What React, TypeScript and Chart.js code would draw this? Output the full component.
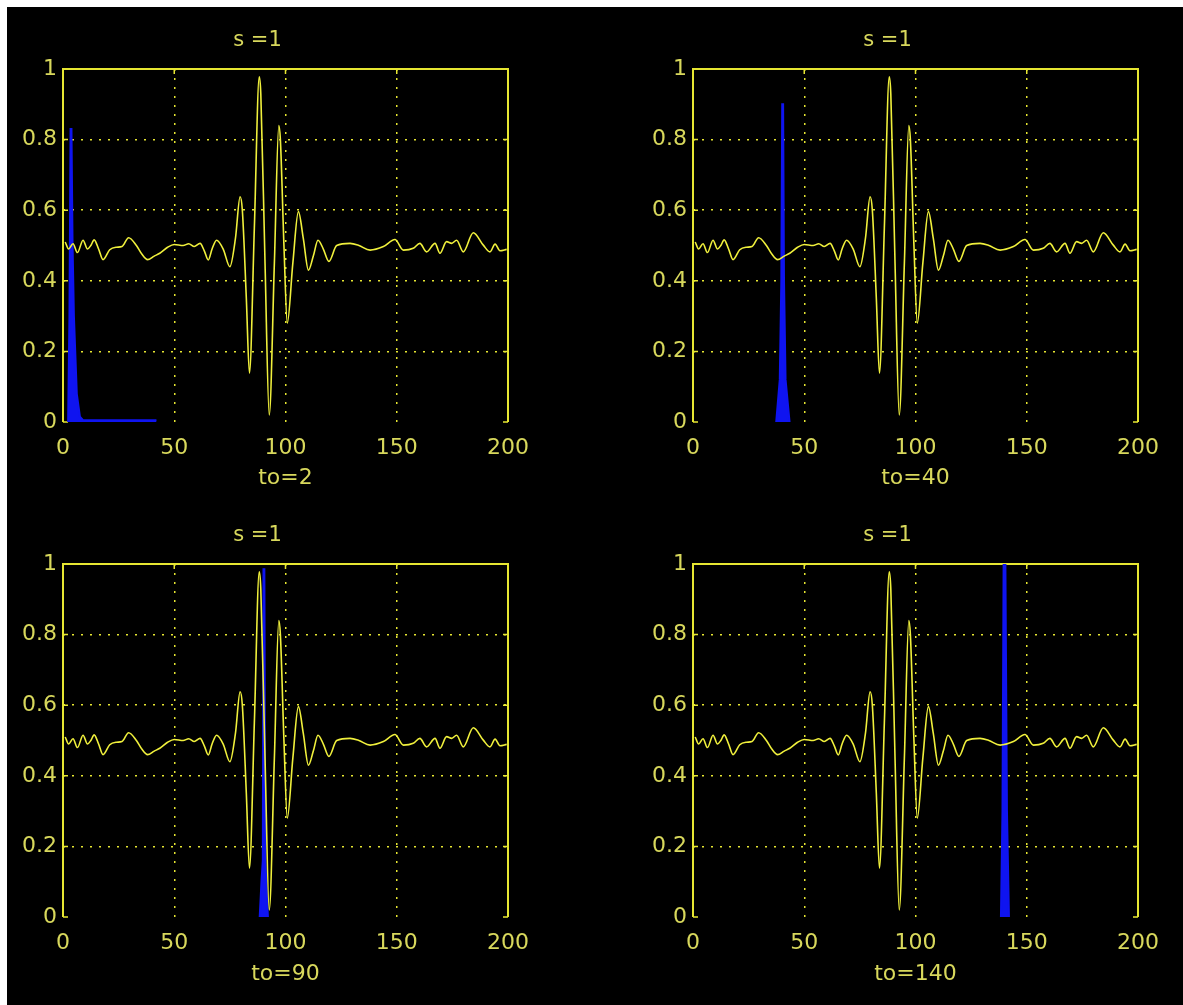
import React, { useEffect, useRef } from "react";
import { Chart, registerables } from "chart.js";

Chart.register(...registerables);

// Axis ticks
const xTicks = [0, 50, 100, 150, 200];
const yTicks = [0, 0.2, 0.4, 0.6, 0.8, 1];

// Panel captions
const panelTitles = ["s =1", "s =1", "s =1", "s =1"];
const panelLabels = ["to=2", "to=40", "to=90", "to=140"];

// Analysed signal (same in every panel)
const signalX = [
  1, 2.5, 4.5, 6.5, 9, 11, 12.5, 14, 16, 18, 21, 24, 26.5, 29.5, 33, 35.5, 38, 41,
  43.5, 47, 50, 54, 56.5, 59, 61.6, 63.5, 65.3, 67, 69, 72, 75, 77.5, 79.6, 80.6,
  82.4, 83.8, 86, 88.2, 88.9, 90.8, 92.7, 95, 97, 97.7, 99.3, 100.8, 103.3, 105.8,
  108, 110.3, 112.5, 114.6, 117, 119.5, 123, 129, 133, 138, 144, 149.2, 153,
  157.4, 160.4, 163.4, 167.2, 169.4, 172.4, 174.7, 176.9, 179.9, 184.4, 188.9,
  191.9, 194.2, 196.4, 199.4,
];
const signalY = [
  0.51, 0.49, 0.505, 0.48, 0.515, 0.49, 0.5, 0.516, 0.49, 0.46, 0.488, 0.495,
  0.497, 0.522, 0.5, 0.475, 0.46, 0.47, 0.478, 0.495, 0.503, 0.5, 0.505, 0.497,
  0.506, 0.485, 0.459, 0.49, 0.515, 0.49, 0.44, 0.52, 0.638, 0.6, 0.35, 0.138,
  0.55, 0.978, 0.93, 0.45, 0.02, 0.45, 0.84, 0.8, 0.5, 0.28, 0.45, 0.596, 0.52,
  0.43, 0.47, 0.515, 0.49, 0.455, 0.5, 0.506, 0.5, 0.487, 0.497, 0.517, 0.487,
  0.492, 0.506, 0.482, 0.506, 0.478, 0.511, 0.506, 0.515, 0.482, 0.536, 0.501,
  0.482, 0.504, 0.485, 0.489,
];

// Window pulses centred on "to"
const pulse1X = [2.3, 2.9, 3.4, 3.8, 4.3, 4.9, 6.2, 7.6, 9, 42];
const pulse1Y = [0.0, 0.3, 0.83, 0.83, 0.5, 0.3, 0.08, 0.015, 0.005, 0.005];
const pulse2X = [37.4, 39, 39.7, 40.1, 40.5, 40.9, 41.6, 43.4];
const pulse2Y = [0.0, 0.12, 0.4, 0.9, 0.9, 0.4, 0.12, 0.0];
const pulse3X = [88.4, 89.2, 89.8, 90.1, 90.5, 90.9, 91.4, 92.1];
const pulse3Y = [0.0, 0.1, 0.16, 0.985, 0.985, 0.16, 0.1, 0.0];
const pulse4X = [138.4, 139.1, 139.6, 140.4, 141.1, 142];
const pulse4Y = [0.0, 0.3, 1.0, 1.0, 0.3, 0.0];

const pulsesX = [pulse1X, pulse2X, pulse3X, pulse4X];
const pulsesY = [pulse1Y, pulse2Y, pulse3Y, pulse4Y];

const AXIS = "#e6e632";
const TEXT = "#d8d85c";
const LINE = "#f0f03c";
const BLUE = "#0f14f0";
const FONT = "'DejaVu Sans', 'Liberation Sans', sans-serif";

const framePlugin = {
  id: "matlabFrame",
  beforeDatasetsDraw(chart: any) {
    const { ctx, chartArea: a, scales } = chart;
    ctx.save();
    ctx.setLineDash([]);
    ctx.strokeStyle = AXIS;
    ctx.lineWidth = 2;
    ctx.beginPath();
    ctx.moveTo(a.left, a.bottom);
    ctx.lineTo(a.left, a.top);
    ctx.lineTo(a.right, a.top);
    ctx.lineTo(a.right, a.bottom);
    ctx.stroke();
    ctx.lineWidth = 1.5;
    ctx.beginPath();
    scales.x.ticks.forEach((t: any) => {
      const px = scales.x.getPixelForValue(t.value);
      ctx.moveTo(px, a.top);
      ctx.lineTo(px, a.top + 5);
    });
    scales.y.ticks.forEach((t: any) => {
      const py = scales.y.getPixelForValue(t.value);
      ctx.moveTo(a.left, py);
      ctx.lineTo(a.left + 5, py);
      ctx.moveTo(a.right, py);
      ctx.lineTo(a.right - 5, py);
    });
    ctx.stroke();
    ctx.restore();
  },
};

const tickText = (v: any) => `${Number(Number(v).toFixed(1))}`;

type PanelProps = { index: number; left: number; top: number; height: number };

function Panel({ index, left, top, height }: PanelProps) {
  const ref = useRef<HTMLCanvasElement | null>(null);

  useEffect(() => {
    if (!ref.current) return;
    const signal = signalX.map((x, i) => ({ x, y: signalY[i] }));
    const pulse = pulsesX[index].map((x, i) => ({ x, y: pulsesY[index][i] }));
    const titleSize = 21;
    const titleLine = titleSize * 1.2;
    const titleMid = 34;
    const chart = new Chart(ref.current, {
      type: "line",
      data: {
        datasets: [
          {
            data: signal,
            borderColor: LINE,
            borderWidth: 1.6,
            pointRadius: 0,
            fill: false,
            cubicInterpolationMode: "monotone",
            order: 0,
          },
          {
            data: pulse,
            borderColor: BLUE,
            backgroundColor: BLUE,
            borderWidth: 2,
            pointRadius: 0,
            fill: "origin",
            tension: 0,
            order: 1,
          },
        ],
      },
      options: {
        animation: false,
        responsive: false,
        devicePixelRatio: 1,
        layout: { padding: { left: 0, top: 0, right: 45, bottom: 0 } },
        plugins: {
          legend: { display: false },
          tooltip: { enabled: false },
          title: {
            display: true,
            text: panelTitles[index],
            color: TEXT,
            font: { family: FONT, size: titleSize, weight: "normal" },
            padding: { top: titleMid - titleLine / 2, bottom: 62 - (titleMid + titleLine / 2) },
          },
        },
        scales: {
          x: {
            type: "linear",
            min: xTicks[0],
            max: xTicks[xTicks.length - 1],
            afterBuildTicks: (s: any) => {
              s.ticks = xTicks.map((v) => ({ value: v }));
            },
            ticks: {
              color: TEXT,
              font: { family: FONT, size: 22 },
              padding: 13,
              maxRotation: 0,
              autoSkip: false,
              callback: tickText,
            },
            grid: { color: AXIS, lineWidth: 1.5, drawTicks: false },
            border: { display: false, dash: [2, 7] },
            title: {
              display: true,
              text: panelLabels[index],
              color: TEXT,
              font: { family: FONT, size: 22 },
              padding: { top: 0, bottom: 12 },
            },
            afterFit: (s: any) => {
              s.height = height - 62 - 353;
            },
          },
          y: {
            type: "linear",
            min: yTicks[0],
            max: yTicks[yTicks.length - 1],
            afterBuildTicks: (s: any) => {
              s.ticks = yTicks.map((v) => ({ value: v }));
            },
            ticks: {
              color: TEXT,
              font: { family: FONT, size: 22 },
              padding: 6,
              autoSkip: false,
              callback: tickText,
            },
            grid: {
              color: (c: any) => (c.tick && c.tick.value === 0 ? "rgba(0,0,0,0)" : AXIS),
              lineWidth: 1.5,
              drawTicks: false,
            },
            border: { display: false, dash: [2, 7] },
            afterFit: (s: any) => {
              s.width = 56;
            },
          },
        },
      },
      plugins: [framePlugin],
    });
    return () => chart.destroy();
  }, [index, height]);

  return (
    <canvas
      ref={ref}
      width={546}
      height={height}
      style={{ position: "absolute", left, top, width: 546, height }}
    />
  );
}

export default function App() {
  return (
    <div
      style={{
        position: "absolute",
        left: 7,
        top: 7,
        width: 1176,
        height: 998,
        background: "#000",
        overflow: "hidden",
      }}
    >
      <Panel index={0} left={0} top={0} height={496} />
      <Panel index={1} left={630} top={0} height={496} />
      <Panel index={2} left={0} top={495} height={497} />
      <Panel index={3} left={630} top={495} height={497} />
    </div>
  );
}
